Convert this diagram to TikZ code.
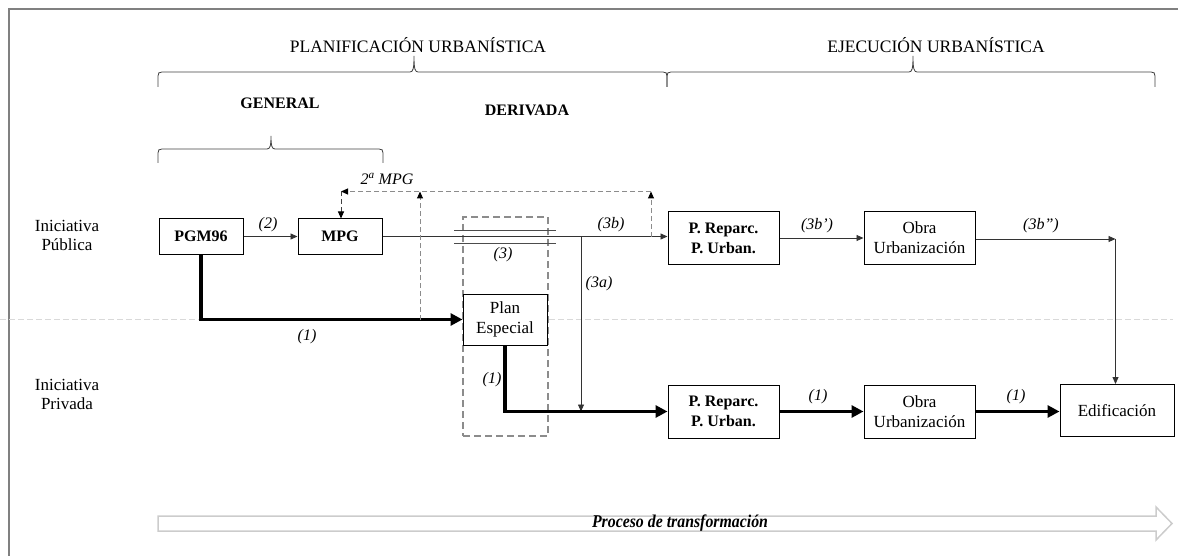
\documentclass[tikz,border=0pt]{standalone}
\usepackage{fontspec}
\setmainfont{Liberation Serif}
\usetikzlibrary{arrows.meta}
\begin{document}
\begin{tikzpicture}[x=1pt,y=-1pt,
  box/.style={draw=black, line width=1pt, inner sep=0pt, align=center, font=\fontsize{17}{20}\selectfont},
  bbox/.style={box, font=\fontsize{16}{20}\selectfont\bfseries},
  thin/.style={draw=black!80, line width=0.8pt},
  tarrow/.style={thin, -{Triangle[length=7pt,width=6pt]}},
  thick arrow/.style={draw=black, line width=3.5pt, -{Triangle[length=12pt,width=12pt]}},
  dasharr/.style={draw=black!45, line width=1pt, dash pattern=on 5pt off 3pt, -{Triangle[length=7pt,width=6pt,color=black,fill=black]}},
  lab/.style={font=\fontsize{16}{18}\selectfont\itshape, inner sep=0pt},
  side/.style={font=\fontsize{17}{19}\selectfont, align=center, inner sep=0pt},
  head/.style={font=\fontsize{16}{18}\selectfont\bfseries, inner sep=0pt},
  title/.style={inner sep=0pt, font=\fontsize{17.5}{20}\selectfont},
  bracestyle/.style={draw=black!75, line width=0.8pt}
]
\useasboundingbox (0,0) rectangle (1178,556);
% frame
\draw[black!50, line width=2pt] (9,556) -- (9,9) -- (1178,9);
% titles
\node[title] (tplan) at (418,45) {PLANIFICACIÓN URBANÍSTICA};
\node[title] (tejec) at (936,45) {EJECUCIÓN URBANÍSTICA};
% braces
\draw[bracestyle] (158,87) -- (158,76) .. controls (158,73) and (159,72) .. (162,72) -- (410,72) .. controls (413,72) and (414,69) .. (414,56) .. controls (414,69) and (415,72) .. (418,72) -- (663,72) .. controls (666,72) and (667,73) .. (667,76) -- (667,87);
\draw[bracestyle] (667,87) -- (667,76) .. controls (667,73) and (668,72) .. (671,72) -- (909,72) .. controls (912,72) and (913,69) .. (913,56) .. controls (913,69) and (914,72) .. (917,72) -- (1151,72) .. controls (1154,72) and (1155,73) .. (1155,76) -- (1155,87);
\draw[bracestyle] (158,163) -- (158,153) .. controls (158,150) and (159,149) .. (162,149) -- (267,149) .. controls (270,149) and (271,146) .. (271,136) .. controls (271,146) and (272,149) .. (275,149) -- (379,149) .. controls (382,149) and (383,150) .. (383,153) -- (383,163);
\node[head] (hgen) at (280,103) {GENERAL};
\node[head] (hder) at (527,110) {DERIVADA};
% side labels
\node[side] (pub) at (67,235.5) {Iniciativa\\Pública};
\node[side] (priv) at (67,394.5) {Iniciativa\\Privada};
% separator
\draw[black!15, line width=0.8pt, dash pattern=on 6pt off 3pt] (0,319) -- (1173,319);
% dashed box
\node[draw=black!45, line width=1.2pt, dash pattern=on 7pt off 4pt, minimum width=85pt, minimum height=219pt, inner sep=0pt] (dbox) at (505.5,326.5) {};
% nodes
\node[bbox, minimum width=84pt, minimum height=35pt] (pgm) at (201,236.5) {PGM96};
\node[bbox, minimum width=84pt, minimum height=35pt] (mpg) at (340,236.5) {MPG};
\node[box, fill=white, minimum width=84pt, minimum height=51pt] (pe) at (505,319.5) {Plan\\Especial};
\node[bbox, minimum width=111pt, minimum height=53pt] (pr1) at (723.5,238) {P. Reparc.\\P. Urban.};
\node[box, minimum width=111pt, minimum height=53pt] (ou1) at (919.5,238) {Obra\\Urbanización};
\node[bbox, minimum width=111pt, minimum height=53pt] (pr2) at (723.5,411.5) {P. Reparc.\\P. Urban.};
\node[box, minimum width=111pt, minimum height=53pt] (ou2) at (919.5,411.5) {Obra\\Urbanización};
\node[box, minimum width=114pt, minimum height=52pt] (edif) at (1117,410.5) {Edificación};
% coordinates
\coordinate (c3a) at (581,237);
\coordinate (c3a2) at (581,411.5);
\coordinate (c3b) at (1115.5,239);
\coordinate (d1) at (420,320);
\coordinate (d1t) at (420,191.5);
\coordinate (d2) at (651,237);
\coordinate (d2t) at (651,191.5);
\coordinate (d3) at (341,191.5);
% thin connectors
\draw[tarrow] (pgm) -- (mpg);
\draw[tarrow] (mpg.east) -- (pr1.west |- mpg.east);
\draw[tarrow] (c3a) -- (c3a2);
\draw[tarrow] (pr1) -- (ou1);
\draw[tarrow] (ou1.east |- c3b) -- (c3b);
\draw[tarrow] (c3b) -- (c3b |- edif.north);
% double line break
\draw[thin, black!70] (454,230.5) -- (556,230.5);
\draw[thin, black!70] (454,243.5) -- (556,243.5);
% thick connectors
\draw[thick arrow] (pgm.south) |- (pe.west);
\draw[thick arrow] (pe.south) |- (pr2.west);
\draw[thick arrow] (pr2) -- (ou2);
\draw[thick arrow] (ou2.east) -- (edif.west |- ou2.east);
% dashed feedback
\draw[dasharr] (d1) -- (d1t);
\draw[dasharr] (d2) -- (d2t);
\draw[dasharr] (d2t) -- (d3);
\draw[dasharr, draw=black!75] (d3) -- (d3 |- mpg.north);
% labels
\node[lab] (l2) at (268,225) {(2)};
\node[lab] (l3b) at (611,225) {(3b)};
\node[lab] (l3) at (503,255) {(3)};
\node[lab] (l3a) at (599,284) {(3a)};
\node[lab] (l1a) at (307,337) {(1)};
\node[lab] (l1b) at (492,380) {(1)};
\node[lab] (l3bp) at (817,226) {(3b’)};
\node[lab] (l3bpp) at (1041,226) {(3b”)};
\node[lab] (l1c) at (818,397) {(1)};
\node[lab] (l1d) at (1016,397) {(1)};
\node[lab] (l2mpg) at (387,179) {2\textsuperscript{a} MPG};
% process arrow
\draw[black!20, line width=1.5pt, line join=miter] (158,516) -- (1156,516) -- (1156,507) -- (1172,523.5) -- (1156,540) -- (1156,531) -- (158,531) -- cycle;
\node[inner sep=0pt, font=\fontsize{18}{20}\selectfont\bfseries\itshape] (proc) at (680,523.5) {\scalebox{0.88}[1]{Proceso de transformación}};
\end{tikzpicture}
\end{document}
